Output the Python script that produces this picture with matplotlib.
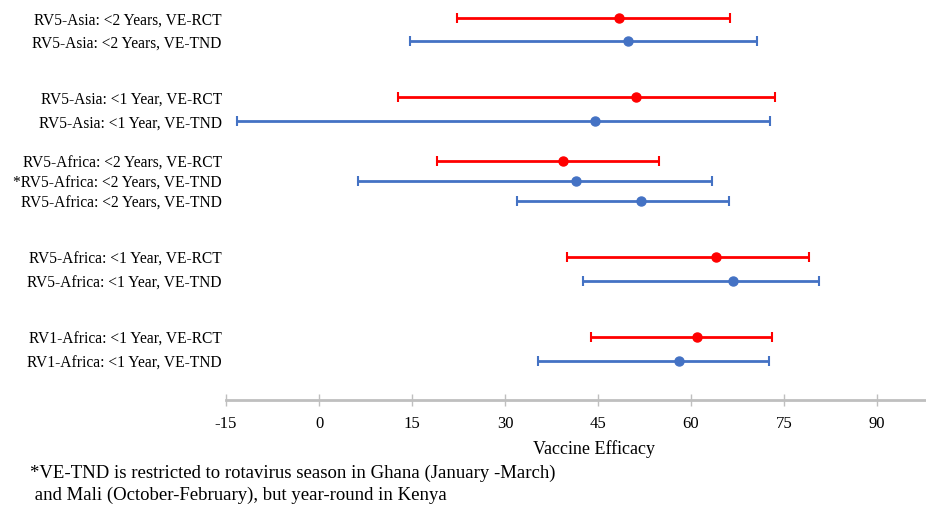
"""Forest plot of vaccine efficacy, RCT vs TND."""

import matplotlib.pyplot as plt
import numpy as np

labels = [
    "RV5-Asia: <2 Years, VE-RCT",
    "RV5-Asia: <2 Years, VE-TND",
    "RV5-Asia: <1 Year, VE-RCT",
    "RV5-Asia: <1 Year, VE-TND",
    "RV5-Africa: <2 Years, VE-RCT",
    "*RV5-Africa: <2 Years, VE-TND",
    "RV5-Africa: <2 Years, VE-TND",
    "RV5-Africa: <1 Year, VE-RCT",
    "RV5-Africa: <1 Year, VE-TND",
    "RV1-Africa: <1 Year, VE-RCT",
    "RV1-Africa: <1 Year, VE-TND",
]
design = ["RCT", "TND", "RCT", "TND", "RCT", "TND", "TND", "RCT", "TND", "RCT", "TND"]
ve = [48.4, 49.9, 51.1, 44.5, 39.4, 41.5, 52.0, 64.0, 66.7, 61.0, 58.1]
ci_low = [22.3, 14.6, 12.7, -13.3, 19.1, 6.3, 32.0, 40.0, 42.5, 43.8, 35.3]
ci_high = [66.3, 70.7, 73.5, 72.8, 54.8, 63.4, 66.1, 79.1, 80.7, 73.0, 72.6]

xticks = [-15, 0, 15, 30, 45, 60, 75, 90]
footnote = [
    "*VE-TND is restricted to rotavirus season in Ghana (January -March)",
    " and Mali (October-February), but year-round in Kenya",
]


def main():
    plt.rcParams["font.family"] = ["Liberation Serif", "DejaVu Serif"]

    # row positions (layout only), top to bottom
    ypos = np.array([19, 42, 98, 122, 162, 182, 202, 258, 282, 338, 362])
    colors = {"RCT": "#FF0000", "TND": "#4472C4"}

    fig = plt.figure(figsize=(9.26, 5.06), dpi=100)
    ax = fig.add_axes([226 / 926, 1 - 401 / 506, 700 / 926, 401 / 506])

    for i in range(len(labels)):
        c = colors[design[i]]
        ax.errorbar(
            ve[i],
            ypos[i],
            xerr=[[ve[i] - ci_low[i]], [ci_high[i] - ve[i]]],
            fmt="o",
            color=c,
            ecolor=c,
            ms=6.5,
            elinewidth=2,
            capsize=3.5,
            capthick=1.5,
        )

    ax.set_xlim(-15, 97.9)
    ax.set_ylim(401, 0)
    ax.set_xticks(xticks)
    ax.set_xticklabels([str(t) for t in xticks], fontsize=12)
    ax.set_yticks(ypos)
    ax.set_yticklabels(labels, fontsize=11.2)
    ax.tick_params(axis="y", length=0, pad=3)
    ax.tick_params(axis="x", direction="inout", length=8, width=1,
                   color="#BFBFBF", pad=7)
    for s in ["top", "right", "left"]:
        ax.spines[s].set_visible(False)
    ax.spines["bottom"].set_color("#BFBFBF")
    ax.spines["bottom"].set_linewidth(2)

    fig.text(594 / 926, 1 - 449 / 506, "Vaccine Efficacy", ha="center",
             va="center", fontsize=13)
    for k, line in enumerate(footnote):
        fig.text(30 / 926, 1 - (473 + 22 * k) / 506, line, ha="left",
                 va="center", fontsize=13.5)

    fig.savefig("out.png", dpi=100)


if __name__ == "__main__":
    main()
